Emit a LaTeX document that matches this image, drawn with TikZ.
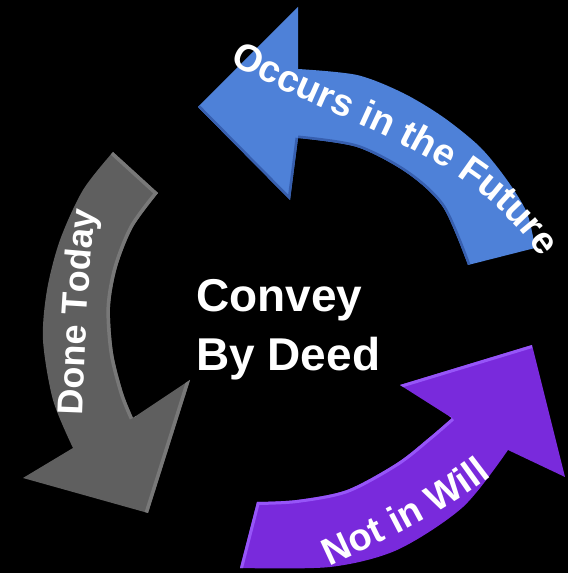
\documentclass[tikz,border=0pt]{standalone}
\usepackage{fontspec}
\setmainfont{Liberation Sans}
\usetikzlibrary{decorations.text}
\definecolor{bluearrow}{RGB}{78,129,216}
\definecolor{bluedark}{RGB}{55,95,175}
\definecolor{grayarrow}{RGB}{95,95,95}
\definecolor{graylight}{RGB}{120,120,120}
\definecolor{purplearrow}{RGB}{121,42,220}
\definecolor{purplelight}{RGB}{150,85,248}
\newcommand\myblueshape{(198,466) -- (298,566) -- (298,504) -- plot[smooth] coordinates {(298,504) (357,498) (403,480) (443,456) (480,426) (507,393) (527,360) (535,325)} -- (468,308) -- plot[smooth] coordinates {(468,308) (443,366) (407,400) (357,426) (298,435)} -- (290,373) -- cycle}
\newcommand\mygrayshape{(113,421) -- plot[smooth] coordinates {(113,421) (83,383) (60,333) (47,283) (43,233) (53,173) (73,125)} -- (23,95) -- (148,60) -- (190,193) -- (133,155) -- plot[smooth] coordinates {(133,155) (123,180) (113,220) (110,266) (117,306) (133,346) (158,380)} -- cycle}
\newcommand\mypurpleshape{(240,5) -- (257,71) -- plot[smooth] coordinates {(257,71) (297,73) (347,83) (397,110) (430,136) (452,155)} -- (400,188) -- (532,228) -- (565,96) -- (508,123) -- plot[smooth] coordinates {(508,123) (463,66) (397,23) (330,6) (240,5)} -- cycle}
\newcommand\myarcfontA{\fontsize{38}{38}\selectfont\bfseries}
\newcommand\myarcfontB{\fontsize{36}{36}\selectfont\bfseries}
\tikzset{
  arctext/.style={decorate, decoration={text along path, text align=center, text color=white, text={#1}}},
  centertext/.style={text=white, font=\fontsize{46}{54}\selectfont\bfseries, inner sep=0pt}
}
\begin{document}
\begin{tikzpicture}[x=1pt,y=1pt]
\fill[black] (0,0) rectangle (568,573);
\useasboundingbox (0,0) rectangle (568,573);
% blue arrow
\fill[bluearrow] \myblueshape;
\begin{scope}
\clip \myblueshape;
\draw[bluedark, line width=5pt] (298,435) -- (290,373) -- (198,466);
\draw[bluedark, line width=5pt] plot[smooth] coordinates {(468,308) (443,366) (407,400) (357,426) (298,435)};
\end{scope}
% gray arrow
\fill[grayarrow] \mygrayshape;
\begin{scope}
\clip \mygrayshape;
\draw[graylight, line width=7pt] (113,421) -- (158,380);
\draw[graylight, line width=7pt] plot[smooth] coordinates {(133,155) (123,180) (113,220) (110,266) (117,306) (133,346) (158,380)};
\draw[graylight, line width=7pt] (190,193) -- (148,60);
\end{scope}
% purple arrow
\fill[purplearrow] \mypurpleshape;
\begin{scope}
\clip \mypurpleshape;
\draw[purplelight, line width=6pt] (240,5) -- (257,71) -- plot[smooth] coordinates {(257,71) (297,73) (347,83) (397,110) (430,136) (452,155)};
\draw[purplelight, line width=6pt] (400,188) -- (532,228);
\end{scope}
% arc texts
\path[arctext={|\myarcfontA|Occurs in the Future}] (236,506) .. controls (342,450) and (467,420) .. (536,322);
\path[arctext={|\myarcfontB|Done Today}] (82,150) .. controls (85,225) and (87,295) .. (97,370);
\path[arctext={|\myarcfontA|Not in Will}] (320,2) .. controls (379,29) and (450,62) .. (500,104);
% center text
\node[centertext, anchor=base west] (convey) at (196,261) {Convey};
\node[centertext, anchor=base west] (bydeed) at (196,202) {By Deed};
\end{tikzpicture}
\end{document}
